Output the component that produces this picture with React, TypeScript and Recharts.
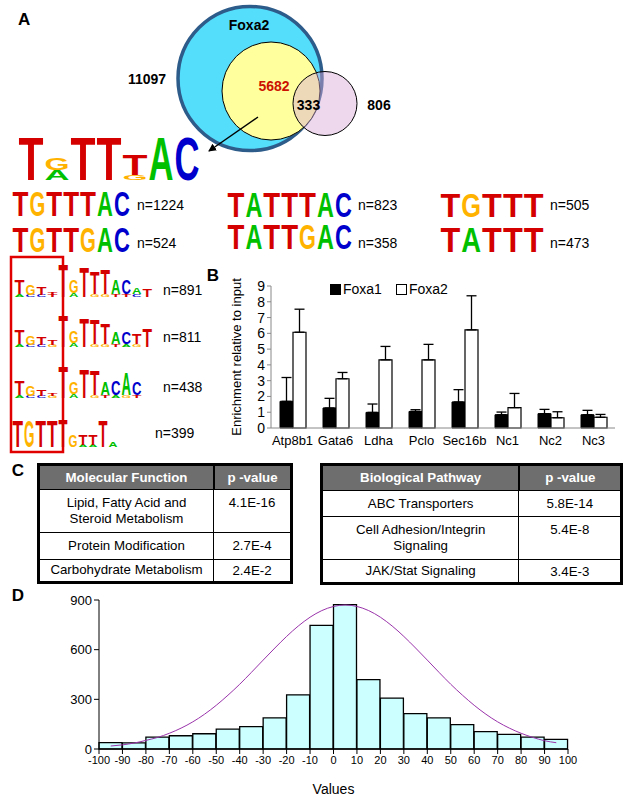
import React from 'react'
import {
  Bar,
  BarChart,
  ComposedChart,
  ErrorBar,
  Legend,
  Line,
  XAxis,
  YAxis,
} from 'recharts'

// ---- panel B: ChIP enrichment ----
const genes = ['Atp8b1', 'Gata6', 'Ldha', 'Pclo', 'Sec16b', 'Nc1', 'Nc2', 'Nc3']
const foxa1 = [1.69, 1.27, 0.99, 1.05, 1.65, 0.84, 0.91, 0.84]
const foxa1Err = [1.51, 0.61, 0.53, 0.11, 0.78, 0.17, 0.27, 0.28]
const foxa2 = [6.07, 3.12, 4.32, 4.32, 6.22, 1.29, 0.65, 0.68]
const foxa2Err = [1.46, 0.4, 0.85, 0.98, 2.16, 0.9, 0.38, 0.18]
const enrichTicks = [0, 1, 2, 3, 4, 5, 6, 7, 8, 9]
const geneEdges = [0, 1, 2, 3, 4, 5, 6, 7, 8]

// ---- panel D: histogram + fitted curve ----
const binCenters = [-95, -85, -75, -65, -55, -45, -35, -25, -15, -5, 5, 15, 25, 35, 45, 55, 65, 75, 85, 95]
const binCounts = [38, 37, 72, 80, 92, 120, 135, 188, 327, 747, 872, 419, 307, 214, 188, 147, 105, 88, 72, 58]
const fitX = [-95, -90, -85, -80, -75, -70, -65, -60, -55, -50, -45, -40, -35, -30, -25, -20, -15, -10, -5, 0, 5,
  10, 15, 20, 25, 30, 35, 40, 45, 50, 55, 60, 65, 70, 75, 80, 85, 90, 95]
const fitY = [18, 25, 36, 52, 70, 95, 126, 164, 210, 264, 325, 391, 463, 537, 610, 680, 743, 796, 836, 861, 870,
  861, 836, 796, 743, 680, 610, 537, 463, 391, 325, 264, 210, 164, 126, 95, 70, 50, 38]
const valueTicks = [-100, -90, -80, -70, -60, -50, -40, -30, -20, -10, 0, 10, 20, 30, 40, 50, 60, 70, 80, 90, 100]
const countTicks = [0, 300, 600, 900]

// ---- panel C tables ----
const mfHeader = ['Molecular Function', 'p -value']
const mfRows = [
  ['Lipid, Fatty Acid and\nSteroid Metabolism', '4.1E-16'],
  ['Protein Modification', '2.7E-4'],
  ['Carbohydrate Metabolism', '2.4E-2'],
]
const bpHeader = ['Biological Pathway', 'p -value']
const bpRows = [
  ['ABC Transporters', '5.8E-14'],
  ['Cell Adhesion/Integrin\nSignaling', '5.4E-8'],
  ['JAK/Stat Signaling', '3.4E-3'],
]

const FONT = '"Liberation Sans", Arial, sans-serif'
const NARROW = '"Liberation Sans Narrow", "Liberation Sans", Arial, sans-serif'
const letterColor: Record<string, string> = { T: '#D40000', G: '#FFB300', A: '#00C000', C: '#0000CC' }
// bold glyph advance widths (em) used to squeeze each letter into its column
const letterAdv: Record<string, number> = { T: 0.611, G: 0.778, A: 0.722, C: 0.722 }

type Col = [string, number][]
const word = (s: string, h: number): Col[] => s.split('').map((ch) => [[ch, h]] as Col)

// motif logos (stacks from bottom to top)
const bigLogo: Col[] = [[['T', 42]], [['A', 10], ['G', 12]], [['T', 42]], [['T', 42]], [['G', 5], ['T', 21]], [['A', 42]], [['C', 42]]]
const row891L: Col[] = [[['A', 3], ['T', 14]], [['C', 2], ['G', 10]], [['C', 2], ['T', 8]], [['T', 2], ['T', 2]]]
const row891R: Col[] = [[['T', 32]], [['A', 4], ['G', 13]], [['T', 29]], [['G', 3], ['T', 22]], [['G', 3], ['T', 24]],
  [['T', 3], ['A', 14]], [['T', 3], ['C', 14]], [['C', 3], ['A', 6]], [['T', 8]]]
const row811L: Col[] = [[['A', 3], ['T', 14]], [['C', 2], ['G', 9]], [['C', 2], ['T', 7]], [['G', 2], ['T', 5]]]
const row811R: Col[] = [[['T', 30]], [['A', 4], ['G', 12]], [['T', 28]], [['G', 3], ['T', 24]], [['G', 3], ['T', 20]],
  [['T', 3], ['A', 12]], [['A', 3], ['C', 12]], [['G', 3], ['T', 10]], [['T', 18]]]
const row438L: Col[] = [[['A', 3], ['T', 14]], [['C', 2], ['G', 10]], [['C', 2], ['T', 6]], [['G', 2], ['T', 3]]]
const row438R: Col[] = [[['T', 31]], [['A', 4], ['G', 12]], [['T', 28]], [['G', 3], ['T', 24]], [['T', 3], ['A', 13]],
  [['A', 3], ['C', 14]], [['G', 3], ['A', 22]], [['T', 3], ['C', 13]]]
const row399L: Col[] = word('TGTT', 26)
const row399R: Col[] = [[['T', 27]], [['G', 12]], [['A', 2], ['T', 10]], [['A', 2], ['T', 10]], [['T', 25]], [['A', 5]]]

const Logo = ({ x0, base, w, cols }: { x0: number; base: number; w: number; cols: Col[] }) => (
  <g>
    {cols.map((col, i) => {
      let y = base
      return col.map(([ch, h], j) => {
        const sx = (w - 1) / (100 * letterAdv[ch])
        const el = (
          <text
            key={`${i}-${j}`}
            transform={`translate(${x0 + i * w + 0.5},${y}) scale(${sx},${h / 69})`}
            fontSize={100}
            fontWeight="bold"
            fontFamily={FONT}
            fill={letterColor[ch]}
          >
            {ch}
          </text>
        )
        y -= h
        return el
      })
    })}
  </g>
)

const Label = ({ x, y, children, size = 14, bold = false, color = '#000', anchor = 'start' }: any) => (
  <text x={x} y={y} fontSize={size} fontWeight={bold ? 'bold' : 'normal'} fill={color} fontFamily={FONT}
    textAnchor={anchor} dominantBaseline="central">
    {children}
  </text>
)

const Table = ({ left, top, width, col1, heights, header, rows }: any) => (
  <div style={{ position: 'absolute', left, top, width, border: '3px solid #000', boxSizing: 'border-box', fontFamily: FONT, fontSize: 13.3, color: '#000' }}>
    {[header, ...rows].map((r: string[], i: number) => (
      <div key={i} style={{
        display: 'flex', height: heights[i], boxSizing: 'border-box',
        borderBottom: i < rows.length ? '1.5px solid #000' : 'none',
        background: i === 0 ? '#6E6E6E' : '#fff', color: i === 0 ? '#fff' : '#000', fontWeight: i === 0 ? 'bold' : 'normal',
      }}>
        <div style={{ width: col1, borderRight: i === 0 ? '2.5px solid #000' : '1.5px solid #000', display: 'flex', alignItems: 'center', justifyContent: 'center', textAlign: 'center', whiteSpace: 'pre-line', lineHeight: '16px' }}>
          {r[0]}
        </div>
        <div style={{ flex: 1, display: 'flex', alignItems: r[0].includes('\n') ? 'flex-start' : 'center', paddingTop: r[0].includes('\n') ? 5 : 0, justifyContent: 'center' }}>
          {r[1]}
        </div>
      </div>
    ))}
  </div>
)

const enrichData = genes.map((g, i) => ({
  gene: g,
  foxa1: foxa1[i],
  foxa1E: [0, foxa1Err[i]],
  foxa2: foxa2[i],
  foxa2E: [0, foxa2Err[i]],
}))
const histData = binCenters.map((x, i) => ({ x, count: binCounts[i] }))
const fitData = fitX.map((x, i) => ({ x, y: fitY[i] }))

const legendItems = [
  { name: 'Foxa1', fill: '#000' },
  { name: 'Foxa2', fill: '#fff' },
]
const renderLegend = () => (
  <div style={{ display: 'flex', gap: 14, fontSize: 14, fontFamily: FONT, color: '#000', whiteSpace: 'nowrap' }}>
    {legendItems.map((s) => (
      <span key={s.name} style={{ display: 'flex', alignItems: 'center' }}>
        <span style={{ display: 'inline-block', width: 9, height: 9, background: s.fill, border: '1px solid #000', marginRight: 2 }} />
        {s.name}
      </span>
    ))}
  </div>
)

export default function App() {
  return (
    <div style={{ position: 'absolute', left: 0, top: 0, width: 630, height: 800, background: '#fff', overflow: 'hidden', fontFamily: FONT }}>
      <svg width={630} height={800} style={{ position: 'absolute', left: 0, top: 0 }}>
        <defs>
          <marker id="arr" markerWidth="8" markerHeight="8" refX="7" refY="4" orient="auto" markerUnits="userSpaceOnUse">
            <path d="M0,0 L8,4 L0,8 z" fill="#000" />
          </marker>
        </defs>
        {/* Venn */}
        <circle cx={250} cy={78.5} r={72} fill="#55DDFC" stroke="#2E5C8A" strokeWidth={3.5} />
        <circle cx={271} cy={91} r={49} fill="#FFFF9E" stroke="#000" strokeWidth={1} />
        <circle cx={325} cy={103.5} r={32} fill="#D8A8D8" fillOpacity={0.45} stroke="#000" strokeWidth={1} />
        <line x1={258} y1={117} x2={209} y2={151} stroke="#000" strokeWidth={1.4} markerEnd="url(#arr)" />
        <Label x={18} y={19} size={17} bold>A</Label>
        <Label x={249} y={25} size={14} bold anchor="middle">Foxa2</Label>
        <Label x={147} y={79} size={14} bold anchor="middle">11097</Label>
        <Label x={274} y={86} size={14} bold anchor="middle" color="#CC1100">5682</Label>
        <Label x={308.5} y={105} size={14} bold anchor="middle">333</Label>
        <Label x={379} y={105} size={14} bold anchor="middle">806</Label>

        {/* motifs */}
        <Logo x0={18} base={180} w={26} cols={bigLogo} />
        <Logo x0={12} base={216} w={16.9} cols={word('TGTTTAC', 24)} />
        <Logo x0={12} base={252} w={16.9} cols={word('TGTTGAC', 24)} />
        <Logo x0={227} base={216.5} w={17.9} cols={word('TATTTAC', 24)} />
        <Logo x0={227} base={249} w={17.9} cols={word('TATTGAC', 24)} />
        <Logo x0={440} base={216.5} w={20.8} cols={word('TGTTT', 23)} />
        <Logo x0={440} base={252} w={20.8} cols={word('TATTT', 24)} />
        <Label x={137} y={205}>n=1224</Label>
        <Label x={137} y={243}>n=524</Label>
        <Label x={358} y={205}>n=823</Label>
        <Label x={358} y={243}>n=358</Label>
        <Label x={550} y={205}>n=505</Label>
        <Label x={550} y={243}>n=473</Label>

        <rect x={11} y={257} width={52} height={195} fill="none" stroke="#E00000" strokeWidth={2.5} />
        <Logo x0={14} base={297} w={11} cols={row891L} />
        <Logo x0={58} base={297} w={10.5} cols={row891R} />
        <Logo x0={14} base={347} w={11} cols={row811L} />
        <Logo x0={58} base={347} w={10.5} cols={row811R} />
        <Logo x0={14} base={398} w={11} cols={row438L} />
        <Logo x0={58} base={398} w={10.5} cols={row438R} />
        <Logo x0={12} base={447} w={11.5} cols={row399L} />
        <Logo x0={58} base={447} w={10} cols={row399R} />
        <Label x={163} y={290}>n=891</Label>
        <Label x={163} y={337}>n=811</Label>
        <Label x={163} y={387}>n=438</Label>
        <Label x={155} y={433}>n=399</Label>

        <Label x={213} y={275} size={17} bold anchor="middle">B</Label>
        <Label x={18} y={470} size={17} bold anchor="middle">C</Label>
        <Label x={18} y={595} size={17} bold anchor="middle">D</Label>
      </svg>

      {/* B */}
      <div style={{ position: 'absolute', left: 202, top: 270 }}>
        <BarChart width={428} height={195} data={enrichData} margin={{ top: 16, right: 15, left: 0, bottom: 7 }} barGap={0} barCategoryGap="20%">
          <XAxis xAxisId="edges" type="number" domain={[0, 8]} ticks={geneEdges} interval={0} allowDataOverflow
            height={0} tick={false} tickSize={4} axisLine={false} tickLine={{ stroke: '#888' }} />
          <XAxis dataKey="gene" height={30} interval={0} tickLine={false} axisLine={{ stroke: '#888' }}
            tick={{ fill: '#000', fontSize: 13, fontFamily: FONT }} />
          <YAxis width={69} domain={[0, 9]} ticks={enrichTicks} interval={0} tickSize={4}
            axisLine={{ stroke: '#888' }} tickLine={{ stroke: '#888' }}
            tick={{ fill: '#000', fontSize: 14, fontFamily: FONT }}
            label={{ value: 'Enrichment relative to input', angle: -90, position: 'center', fill: '#000', fontSize: 13, fontFamily: FONT }} />
          <Legend layout="vertical" align="center" verticalAlign="middle" content={renderLegend}
            wrapperStyle={{ top: 11, left: 128, width: 'auto' }} />
          <Bar dataKey="foxa1" name="Foxa1" fill="#000" stroke="#000" barSize={13} isAnimationActive={false}>
            <ErrorBar dataKey="foxa1E" direction="y" width={5} stroke="#000" strokeWidth={1.3} />
          </Bar>
          <Bar dataKey="foxa2" name="Foxa2" fill="#fff" stroke="#000" strokeWidth={1.2} barSize={13} isAnimationActive={false}>
            <ErrorBar dataKey="foxa2E" direction="y" width={5} stroke="#000" strokeWidth={1.3} />
          </Bar>
        </BarChart>
      </div>

      {/* C */}
      <Table left={37} top={462.7} width={256} col1={173} heights={[24.8, 42.7, 26.6, 21.2]} header={mfHeader} rows={mfRows} />
      <Table left={320} top={462.7} width={303.3} col1={195.3} heights={[25.1, 26.7, 43, 21.5]} header={bpHeader} rows={bpRows} />

      {/* D */}
      <div style={{ position: 'absolute', left: 0, top: 590 }}>
        <ComposedChart width={630} height={210} data={histData} margin={{ top: 10, right: 62, left: 0, bottom: 6 }}>
          <XAxis xAxisId="bins" dataKey="x" type="number" domain={[-100, 100]} ticks={valueTicks} interval={0}
            height={45} tickSize={5} axisLine={{ stroke: '#000' }} tickLine={{ stroke: '#000' }}
            tick={{ fill: '#000', fontSize: 11, fontFamily: NARROW }}
            label={{ value: 'Values', position: 'insideBottom', offset: 0, fill: '#000', fontSize: 14, fontFamily: FONT }} />
          <XAxis xAxisId="fit" dataKey="x" type="number" domain={[-100, 100]} allowDataOverflow hide />
          <YAxis width={99} domain={[0, 900]} ticks={countTicks} interval={0} tickSize={5}
            axisLine={{ stroke: '#000' }} tickLine={{ stroke: '#000' }}
            tick={{ fill: '#000', fontSize: 13, fontFamily: NARROW }} />
          <Bar xAxisId="bins" dataKey="count" fill="#CCFFFF" stroke="#000" strokeWidth={1.3} barSize={23} isAnimationActive={false} />
          <Line xAxisId="fit" data={fitData} dataKey="y" type="monotone" stroke="#9933AA" strokeWidth={1} dot={false} isAnimationActive={false} />
        </ComposedChart>
      </div>
    </div>
  )
}
